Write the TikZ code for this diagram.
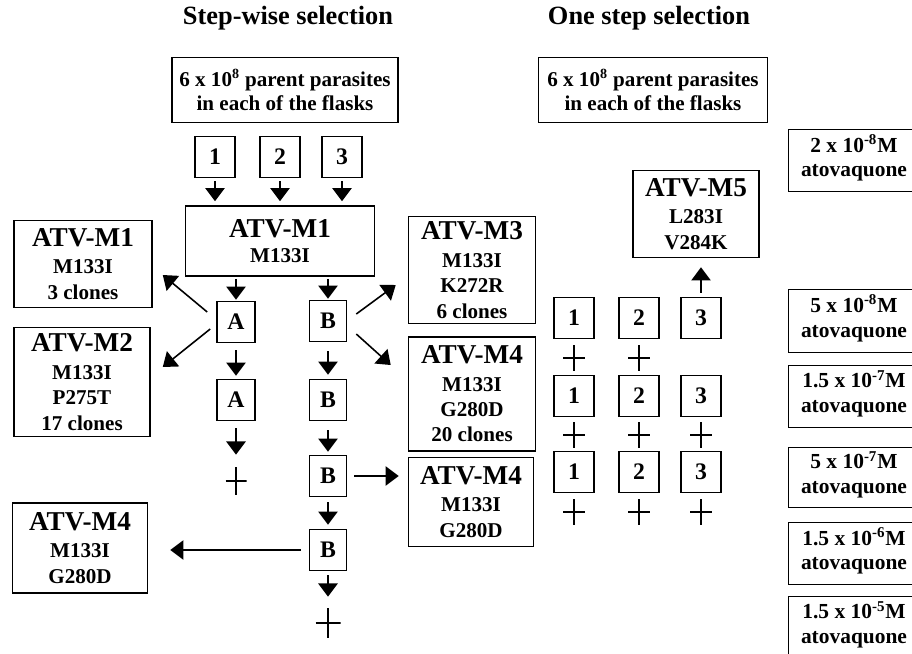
\documentclass[tikz,border=0pt]{standalone}
\usepackage{fontspec}
\setmainfont{Liberation Serif}
\usetikzlibrary{arrows.meta, positioning, calc}

\newcommand{\atvname}[1]{{\fontsize{15.5}{18}\selectfont #1}}

\begin{document}
\begin{tikzpicture}[
  x=0.02cm, y=-0.02cm,
  >={Triangle[width=11pt,length=7.5pt]},
  ttl/.style={font=\bfseries\fontsize{15}{18}\selectfont},
  box/.style={rectangle, draw=black, line width=0.9pt, align=center, inner sep=0pt, font=\bfseries\fontsize{12}{13.8}\selectfont},
  mutbox/.style={box, font=\bfseries\fontsize{12}{14.5}\selectfont},
  flask/.style={box, minimum width=0.8cm, minimum height=0.82cm, font=\bfseries\fontsize{13.5}{15}\selectfont},
  concbox/.style={rectangle, align=center, inner sep=0pt, minimum width=2.6cm, text depth=0.2cm, font=\bfseries\fontsize{12.2}{14}\selectfont},
  plus/.style={rectangle, minimum width=0.44cm, minimum height=0.54cm, inner sep=0pt,
    path picture={\draw[line width=0.6pt] (path picture bounding box.north) -- (path picture bounding box.south)
      (path picture bounding box.west) -- (path picture bounding box.east);}},
  arr/.style={->, line width=0.9pt}
]
\clip (0,0) rectangle (912,653);

% Titles
\node[ttl] (t_step) at (288,18) {Step-wise selection};
\node[ttl] (t_one) at (649,18) {One step selection};

% Step-wise column
\node[box, minimum width=4.52cm, minimum height=1.3cm] (par_sw) at (285,90) {6 x 10\textsuperscript{8} parent parasites\\in each of the flasks};
\foreach \i/\x in {1/215, 2/280, 3/342} {
  \node[flask] (f\i) at (\x,157) {\i};
}
\node[mutbox, minimum width=3.78cm, minimum height=1.4cm] (m1) at (280,241) {\atvname{ATV-M1}\\M133I};

\node[flask, minimum width=0.76cm] (a1) at (236,322) {A};
\node[flask, minimum width=0.76cm] (a2) at (236,400) {A};
\node[plus, minimum width=0.42cm, minimum height=0.56cm] (pa) at (236,481) {};

\node[flask, minimum width=0.74cm] (b1) at (328,321) {B};
\node[flask, minimum width=0.74cm] (b2) at (328,400) {B};
\node[flask, minimum width=0.74cm] (b3) at (328,476) {B};
\node[flask, minimum width=0.74cm] (b4) at (328,550) {B};
\node[plus, minimum width=0.5cm, minimum height=0.6cm] (pb) at (328,623) {};

% Left mutants
\node[mutbox, minimum width=2.76cm, minimum height=1.74cm] (l_m1) at (83,264) {\atvname{ATV-M1}\\[1pt]M133I\\3 clones};
\node[mutbox, minimum width=2.72cm, minimum height=2.18cm] (l_m2) at (82,382) {\atvname{ATV-M2}\\[1pt]M133I\\P275T\\17 clones};
\node[mutbox, minimum width=2.7cm, minimum height=1.8cm] (l_m4) at (80,548) {\atvname{ATV-M4}\\[1pt]M133I\\G280D};

% Right mutants
\node[mutbox, minimum width=2.54cm, minimum height=2.14cm] (r_m3) at (472,270) {\atvname{ATV-M3}\\[1pt]M133I\\K272R\\6 clones};
\node[mutbox, minimum width=2.54cm, minimum height=2.28cm] (r_m4a) at (472,394) {\atvname{ATV-M4}\\[1pt]M133I\\G280D\\20 clones};
\node[mutbox, minimum width=2.5cm, minimum height=1.78cm] (r_m4b) at (471,502) {\atvname{ATV-M4}\\[1pt]M133I\\G280D};

% Step-wise arrows
\foreach \i in {1,2,3} {
  \draw[arr, shorten <=0.06cm, shorten >=0.08cm] (f\i.south) -- (f\i.south |- m1.north);
}
\draw[arr, shorten <=0.04cm, shorten >=0.02cm] (m1.south -| a1) -- (a1.north);
\draw[arr, shorten <=0.04cm, shorten >=0.02cm] (m1.south -| b1) -- (b1.north);
\draw[arr, shorten <=0.14cm, shorten >=0.06cm] (a1) -- (a2);
\draw[arr, shorten <=0.14cm, shorten >=0.24cm] (a2) -- (pa);
\draw[arr, shorten <=0.18cm, shorten >=0.08cm] (b1) -- (b2);
\draw[arr, shorten <=0.18cm, shorten >=0.06cm] (b2) -- (b3);
\draw[arr, shorten <=0.1cm, shorten >=0.08cm] (b3) -- (b4);
\draw[arr, shorten <=0.08cm, shorten >=0.22cm] (b4) -- (pb);

\draw[arr] ($(a1.west)+(-9,-10)$) -- ($(l_m1.east)+(10,11)$);
\draw[arr] ($(a1.west)+(-6,7)$) -- ($(l_m2.east)+(12,-15)$);
\draw[arr] ($(b1.east)+(9,-7)$) -- ($(r_m3.west)+(-12,15)$);
\draw[arr] ($(b1.east)+(9,13)$) -- ($(r_m4a.west)+(-17,-29)$);
\draw[arr, shorten <=0.14cm, shorten >=0.18cm] (b3.east) -- (b3.east -| r_m4b.west);
\draw[arr, shorten <=0.16cm, shorten >=0.44cm] (b4.west) -- (b4.west -| l_m4.east);

% One step column
\node[box, minimum width=4.58cm, minimum height=1.3cm] (par_os) at (653,90) {6 x 10\textsuperscript{8} parent parasites\\in each of the flasks};
\node[mutbox, minimum width=2.52cm, minimum height=1.74cm] (m5) at (696,214) {\atvname{ATV-M5}\\[1pt]L283I\\V284K};

\foreach \r/\y in {1/318, 2/396, 3/472} {
  \foreach \c/\x in {1/574, 2/639, 3/701} {
    \node[flask] (o\r\c) at (\x,\y) {\c};
  }
}
\foreach \c/\x in {1/574, 2/639} {
  \node[plus, minimum height=0.52cm] (q1\c) at (\x,358) {};
}
\foreach \r/\y in {2/435, 3/512} {
  \foreach \c/\x in {1/574, 2/639, 3/701} {
    \node[plus, minimum height=0.52cm] (q\r\c) at (\x,\y) {};
  }
}
\draw[arr, shorten <=0.08cm, shorten >=0.18cm] (o13.north) -- (o13.north |- m5.south);

% Concentrations (boxes run off the right edge)
\node[concbox, minimum height=1.22cm] (c1) at (854,160.5) {2 x 10\textsuperscript{-8}M\\atovaquone};
\node[concbox, minimum height=1.24cm] (c2) at (854,321) {5 x 10\textsuperscript{-8}M\\atovaquone};
\node[concbox, minimum height=1.22cm] (c3) at (854,396.5) {1.5 x 10\textsuperscript{-7}M\\atovaquone};
\node[concbox, minimum height=1.18cm] (c4) at (854,477.5) {5 x 10\textsuperscript{-7}M\\atovaquone};
\node[concbox, minimum height=1.22cm] (c5) at (854,553.5) {1.5 x 10\textsuperscript{-6}M\\atovaquone};
\node[concbox, minimum height=1.22cm] (c6) at (854,627.5) {1.5 x 10\textsuperscript{-5}M\\atovaquone};
\foreach \c in {c1,c2,c3,c4,c5,c6} {
  \draw[line width=0.9pt] ([xshift=0.4cm]\c.north east) -- (\c.north west) -- (\c.south west) -- ([xshift=0.4cm]\c.south east);
}

\end{tikzpicture}
\end{document}
